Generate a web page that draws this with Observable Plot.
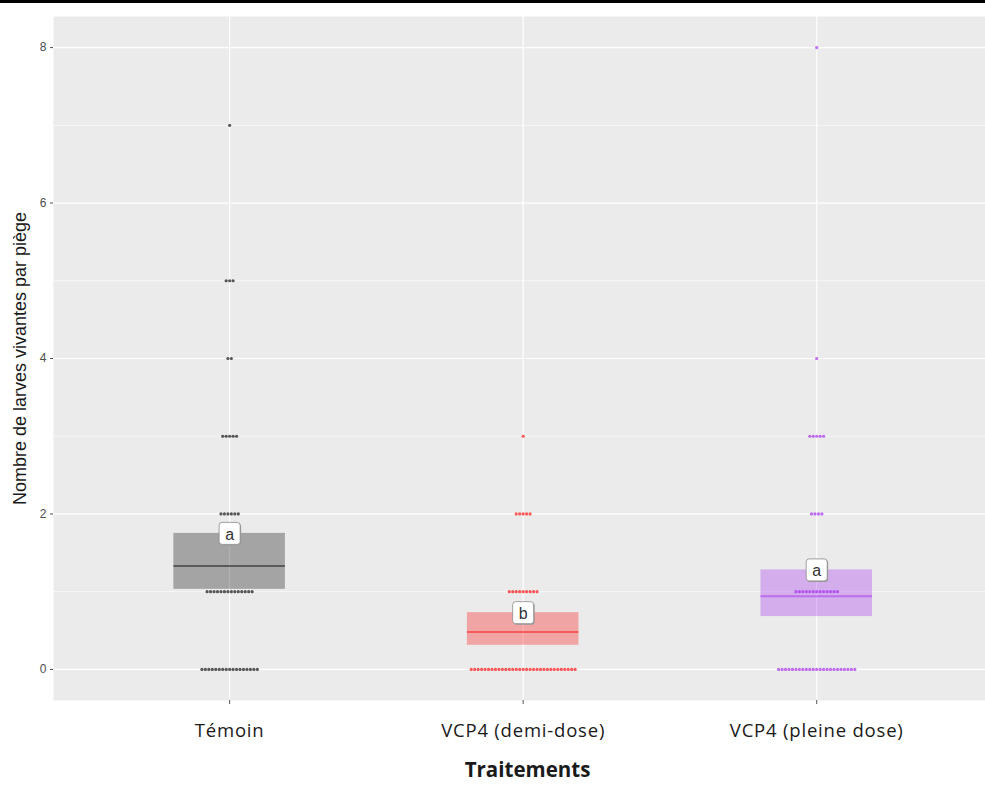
<!DOCTYPE html>
<html><head><meta charset="utf-8">
<script src="https://cdn.jsdelivr.net/npm/d3@7"></script>
<script src="https://cdn.jsdelivr.net/npm/@observablehq/plot@0.6"></script>
<style>
body{margin:0;background:#fff;}
#topbar{height:3px;background:#000;width:985px;}
#chart svg{display:block;}
#chart [aria-label="x-axis tick label"] text{letter-spacing:0.8px;}
</style></head><body>
<div id="topbar"></div>
<div id="chart"></div>
<script>
const treatments = ["Témoin", "VCP4 (demi-dose)", "VCP4 (pleine dose)"];
const levels = [0, 1, 2, 3, 4, 5, 6, 7, 8];
const countsTemoin = [17, 14, 6, 5, 2, 3, 0, 1, 0];
const countsDemi = [31, 9, 5, 1, 0, 0, 0, 0, 0];
const countsPleine = [23, 13, 4, 5, 1, 0, 0, 0, 1];
const meanValues = [1.33, 0.48, 0.94];
const lowerValues = [1.03, 0.31, 0.68];
const upperValues = [1.75, 0.73, 1.28];
const letters = ["a", "b", "a"];
const colors = ["#000000", "#FF0000", "#A020F0"];
const majorTicks = [0, 2, 4, 6, 8];
const minorTicks = [1, 3, 5, 7];
const xTitle = "Traitements";
const yTitle = "Nombre de larves vivantes par piège";

const dots = [];
[countsTemoin, countsDemi, countsPleine].forEach((counts, t) => {
  counts.forEach((n, j) => {
    for (let k = 0; k < n; k++) dots.push({t, value: levels[j], slot: k - (n - 1) / 2});
  });
});
const step = 0.0118;
const halfBox = 0.19;
const boxes = treatments.map((name, i) => ({
  i, name, mean: meanValues[i], lo: lowerValues[i], hi: upperValues[i], letter: letters[i], color: colors[i]
}));

const labelSymbol = {
  draw(ctx) {
    const w = 21, h = 22, r = 3, x0 = -w / 2, y0 = -h / 2;
    ctx.moveTo(x0 + r, y0);
    ctx.lineTo(x0 + w - r, y0);
    ctx.arcTo(x0 + w, y0, x0 + w, y0 + r, r);
    ctx.lineTo(x0 + w, y0 + h - r);
    ctx.arcTo(x0 + w, y0 + h, x0 + w - r, y0 + h, r);
    ctx.lineTo(x0 + r, y0 + h);
    ctx.arcTo(x0, y0 + h, x0, y0 + h - r, r);
    ctx.lineTo(x0, y0 + r);
    ctx.arcTo(x0, y0, x0 + r, y0, r);
    ctx.closePath();
  }
};

const chart = Plot.plot({
  width: 985,
  height: 782,
  marginLeft: 53,
  marginRight: 0,
  marginTop: 13,
  marginBottom: 85,
  style: {fontFamily: "'Liberation Sans', Arial, sans-serif", background: "#fff"},
  x: {domain: [-0.6, 2.575], axis: null},
  y: {domain: [-0.4, 8.4], axis: null},
  color: {type: "identity"},
  marks: [
    Plot.frame({fill: "#EBEBEB", stroke: "none"}),
    Plot.ruleY(minorTicks, {stroke: "#fff", strokeWidth: 0.6}),
    Plot.ruleY(majorTicks, {stroke: "#fff", strokeWidth: 1.2}),
    Plot.ruleX([0, 1, 2], {stroke: "#fff", strokeWidth: 1.2}),
    Plot.rectY(boxes, {x1: d => d.i - halfBox, x2: d => d.i + halfBox, y1: "lo", y2: "hi", fill: "color", fillOpacity: 0.3}),
    Plot.ruleY(boxes, {y: "mean", x1: d => d.i - halfBox, x2: d => d.i + halfBox, stroke: "color", strokeOpacity: 0.45, strokeWidth: 2}),
    Plot.dot(dots, {x: d => d.t + d.slot * step, y: "value", r: 1.6, fill: d => colors[d.t], fillOpacity: 0.65, stroke: "none"}),
    Plot.dot(boxes, {x: "i", y: "hi", symbol: labelSymbol, fill: "#9a9a9a", stroke: "none", dx: 1, dy: 1}),
    Plot.dot(boxes, {x: "i", y: "hi", symbol: labelSymbol, fill: "#fff", stroke: "#8c8c8c", strokeWidth: 0.8}),
    Plot.text(boxes, {x: "i", y: "hi", text: "letter", fontSize: 16, fill: "#333", dy: 1}),
    Plot.axisY({ticks: majorTicks, tickSize: 3, tickPadding: 4, fontSize: 12, color: "#4D4D4D", label: null}),
    Plot.axisX({ticks: [0, 1, 2], tickFormat: i => treatments[i], tickSize: 4, tickPadding: 19, fontSize: 18.5,
      fontFamily: "'Open Sans', sans-serif", color: "#1a1a1a", stroke: "#555", label: null}),
    Plot.text([xTitle], {frameAnchor: "bottom", dy: 76, dx: 8, text: d => d, fontSize: 20.5, fontWeight: "bold",
      fontFamily: "'Open Sans', sans-serif", fill: "#1a1a1a"}),
    Plot.text([yTitle], {frameAnchor: "left", dx: -33, rotate: -90, text: d => d, fontSize: 18, fill: "#1a1a1a", textAnchor: "middle"})
  ]
});
document.getElementById("chart").append(chart);
</script>
</body></html>
